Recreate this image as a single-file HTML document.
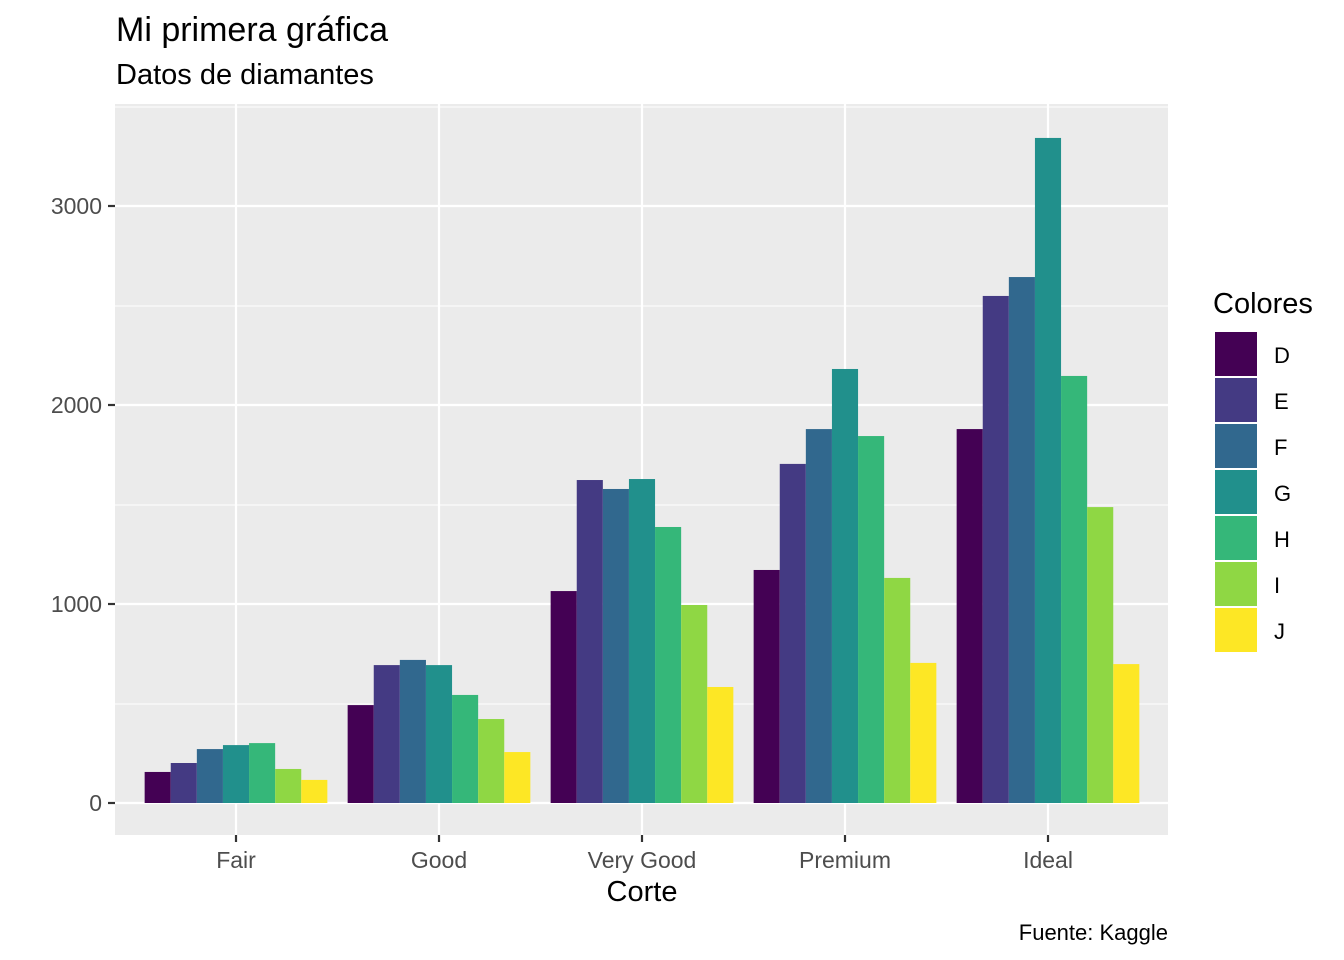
<!DOCTYPE html>
<html><head><meta charset="utf-8"><style>body{margin:0;background:#fff}svg{display:block}</style></head>
<body>
<svg width="1344" height="960" xmlns="http://www.w3.org/2000/svg" font-family="Liberation Sans, Arial, sans-serif">
<rect width="1344" height="960" fill="#fff"/>
<text x="116" y="41" font-size="34" fill="#000">Mi primera gráfica</text>
<text x="116" y="84" font-size="29" fill="#000">Datos de diamantes</text>
<rect x="115" y="104" width="1053" height="731" fill="#EBEBEB"/>
<g stroke="#fff" stroke-width="1.1">
<line x1="115" x2="1168" y1="704" y2="704"/><line x1="115" x2="1168" y1="505" y2="505"/><line x1="115" x2="1168" y1="306" y2="306"/><line x1="115" x2="1168" y1="107" y2="107"/>
</g>
<g stroke="#fff" stroke-width="2.2">
<line x1="115" x2="1168" y1="803" y2="803"/><line x1="115" x2="1168" y1="604" y2="604"/><line x1="115" x2="1168" y1="405" y2="405"/><line x1="115" x2="1168" y1="206" y2="206"/>
<line x1="236" x2="236" y1="104" y2="835"/><line x1="439" x2="439" y1="104" y2="835"/><line x1="642" x2="642" y1="104" y2="835"/><line x1="845" x2="845" y1="104" y2="835"/><line x1="1048" x2="1048" y1="104" y2="835"/>
</g>
<g id="bars"></g>
<g stroke="#333" stroke-width="2.2">
<line x1="108" x2="115" y1="803" y2="803"/><line x1="108" x2="115" y1="604" y2="604"/><line x1="108" x2="115" y1="405" y2="405"/><line x1="108" x2="115" y1="206" y2="206"/>
<line x1="236" x2="236" y1="835" y2="842"/><line x1="439" x2="439" y1="835" y2="842"/><line x1="642" x2="642" y1="835" y2="842"/><line x1="845" x2="845" y1="835" y2="842"/><line x1="1048" x2="1048" y1="835" y2="842"/>
</g>
<g font-size="23" fill="#4D4D4D" text-anchor="end">
<text x="102" y="811">0</text><text x="102" y="612">1000</text><text x="102" y="413">2000</text><text x="102" y="214">3000</text>
</g>
<g font-size="23" fill="#4D4D4D" text-anchor="middle">
<text x="236" y="868">Fair</text><text x="439" y="868">Good</text><text x="642" y="868">Very Good</text><text x="845" y="868">Premium</text><text x="1048" y="868">Ideal</text>
</g>
<text x="642" y="901" font-size="29" text-anchor="middle">Corte</text>
<text x="1168" y="940" font-size="22" text-anchor="end">Fuente: Kaggle</text>
<text x="1213" y="313" font-size="29">Colores</text>
<g id="legend"></g>
<script>
var cols=["#440154","#443A83","#31688E","#21908C","#35B779","#8FD744","#FDE725"];
var labs=["D","E","F","G","H","I","J"];
var d=[[156,201,271,291,301,171,116],[492,693,719,693,543,422,256],[1065,1623,1578,1628,1387,995,583],[1171,1704,1879,2181,1844,1131,704],[1879,2548,2643,3342,2146,1487,698]];
var ns="http://www.w3.org/2000/svg",g=document.getElementById("bars"),bw=182.7/7;
d.forEach(function(r,i){var c=236+203*i;r.forEach(function(v,j){var e=document.createElementNS(ns,"rect");var h=v*0.199;e.setAttribute("x",c-91.35+j*bw);e.setAttribute("width",bw);e.setAttribute("y",803-h);e.setAttribute("height",h);e.setAttribute("fill",cols[j]);g.appendChild(e);});});
var L=document.getElementById("legend");
labs.forEach(function(l,j){var y=332+46*j;var e=document.createElementNS(ns,"rect");e.setAttribute("x",1215);e.setAttribute("y",y);e.setAttribute("width",42);e.setAttribute("height",44);e.setAttribute("fill",cols[j]);L.appendChild(e);var t=document.createElementNS(ns,"text");t.setAttribute("x",1274);t.setAttribute("y",y+31);t.setAttribute("font-size","22");t.textContent=l;L.appendChild(t);});
</script>
</svg>
</body></html>
